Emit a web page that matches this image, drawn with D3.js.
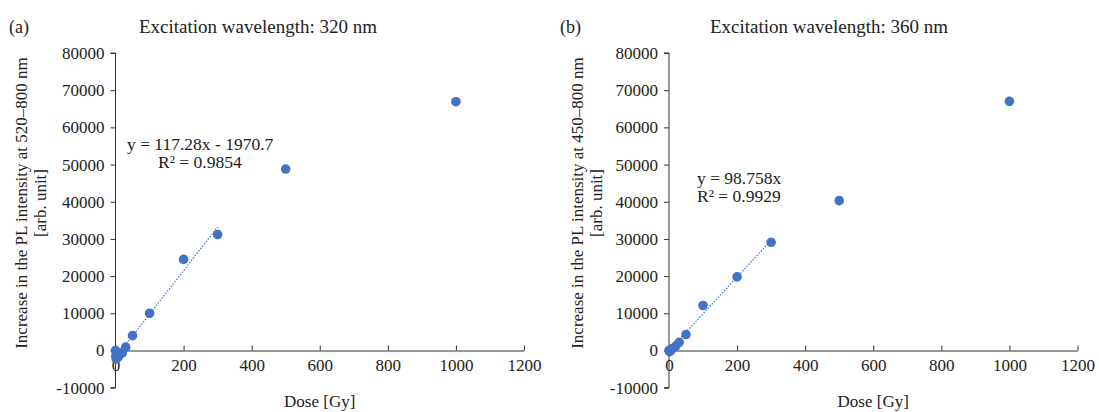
<!DOCTYPE html>
<html>
<head>
<meta charset="utf-8">
<script src="https://cdn.jsdelivr.net/npm/d3@7"></script>
<style>
  body { margin: 0; background: #fff; }
  svg text { font-family: "Liberation Serif", "Times New Roman", serif; fill: #222; }
</style>
</head>
<body>
<svg id="chart" width="1099" height="412" font-family="Liberation Serif, serif"></svg>
<script>
// dose values [Gy]
var doseA = [0, 1, 2, 5, 10, 20, 30, 50, 100, 200, 300, 500, 1000];
var pl320 = [0, -1500, -2300, -2000, -1500, -600, 900, 4000, 10000, 24500, 31200, 48800, 66900];
var doseB = [0, 2, 5, 10, 20, 30, 50, 100, 200, 300, 500, 1000];
var pl360 = [0, -300, 0, 500, 1200, 2200, 4300, 12100, 19800, 29100, 40300, 67000];

var xTicks = [0, 200, 400, 600, 800, 1000, 1200];
var yTicks = [-10000, 0, 10000, 20000, 30000, 40000, 50000, 60000, 70000, 80000];

var fitA = { slope: 117.28, intercept: -1970.7, xMax: 300, eq: "y = 117.28x - 1970.7", r2: "R² = 0.9854" };
var fitB = { slope: 98.758, intercept: 0, xMax: 300, eq: "y = 98.758x", r2: "R² = 0.9929" };

var blue = "#4472c4";
var svg = d3.select("#chart");
var fmt = function(d) { return String(d); }; // plain hyphen minus, no thousands separator

function drawPanel(o) {
  var x = d3.scaleLinear().domain([0, 1200]).range([o.left, o.left + 408.5]);
  var y = d3.scaleLinear().domain([-10000, 80000]).range([387.7, 53]);

  var g = svg.append("g");

  // panel letter + title
  g.append("text").attr("x", o.letterX).attr("y", 33).attr("font-size", 18).text(o.letter);
  g.append("text").attr("x", o.titleX).attr("y", 33).attr("font-size", 19)
    .attr("text-anchor", "middle").text(o.title);

  // y axis
  var yAx = g.append("g")
    .attr("transform", "translate(" + x(0) + ",0)")
    .call(d3.axisLeft(y).tickValues(yTicks).tickSize(5).tickPadding(6).tickFormat(fmt));
  yAx.attr("font-family", null);
  yAx.select(".domain").attr("stroke", "#333").attr("d", "M-5," + y(80000) + "H0V" + y(-10000) + "H-5");
  yAx.selectAll(".tick line").attr("stroke", "#333");
  yAx.selectAll("text").attr("font-size", 17).attr("fill", "#222");

  // x axis crossing at 0, ticks pointing up
  var xAx = g.append("g")
    .attr("transform", "translate(0," + y(0) + ")")
    .call(d3.axisBottom(x).tickValues(xTicks).tickSize(0).tickPadding(8).tickFormat(fmt));
  xAx.attr("font-family", null);
  xAx.select(".domain").attr("stroke", "#333");
  xAx.selectAll(".tick line").attr("y2", -5).attr("stroke", "#333");
  xAx.selectAll("text").attr("font-size", 17).attr("fill", "#222");

  // axis titles
  g.append("text").attr("x", x(600)).attr("y", 407).attr("font-size", 17)
    .attr("text-anchor", "middle").text("Dose [Gy]");
  var yl = g.append("text").attr("transform", "translate(" + o.ylabX + ",203) rotate(-90)")
    .attr("font-size", 17).attr("text-anchor", "middle");
  yl.append("tspan").attr("x", 0).attr("dy", 0).text(o.ylab);
  yl.append("tspan").attr("x", 0).attr("dy", 19).text("[arb. unit]");

  // trendline
  g.append("line")
    .attr("x1", x(0)).attr("y1", y(o.fit.intercept))
    .attr("x2", x(o.fit.xMax)).attr("y2", y(o.fit.slope * o.fit.xMax + o.fit.intercept))
    .attr("stroke", blue).attr("stroke-width", 1.2).attr("stroke-dasharray", "1.5,1.5");

  // points
  g.selectAll("circle").data(o.dose).enter().append("circle")
    .attr("cx", function(d) { return x(d); })
    .attr("cy", function(d, i) { return y(o.vals[i]); })
    .attr("r", 4.8).attr("fill", blue);

  // equation
  var eq = g.append("text").attr("font-size", 17.5);
  eq.append("tspan").attr("x", o.eqX).attr("y", o.eqY).text(o.fit.eq);
  eq.append("tspan").attr("x", o.r2X).attr("y", o.eqY + 18).text(o.fit.r2);
}

drawPanel({
  left: 115.5, letter: "(a)", letterX: 9, titleX: 258, title: "Excitation wavelength: 320 nm",
  ylab: "Increase in the PL intensity at 520–800 nm", ylabX: 27,
  dose: doseA, vals: pl320, fit: fitA,
  eqX: 127, r2X: 158, eqY: 150
});
drawPanel({
  left: 669, letter: "(b)", letterX: 560, titleX: 829, title: "Excitation wavelength: 360 nm",
  ylab: "Increase in the PL intensity at 450–800 nm", ylabX: 583,
  dose: doseB, vals: pl360, fit: fitB,
  eqX: 697, r2X: 697, eqY: 184
});
</script>
</body>
</html>
